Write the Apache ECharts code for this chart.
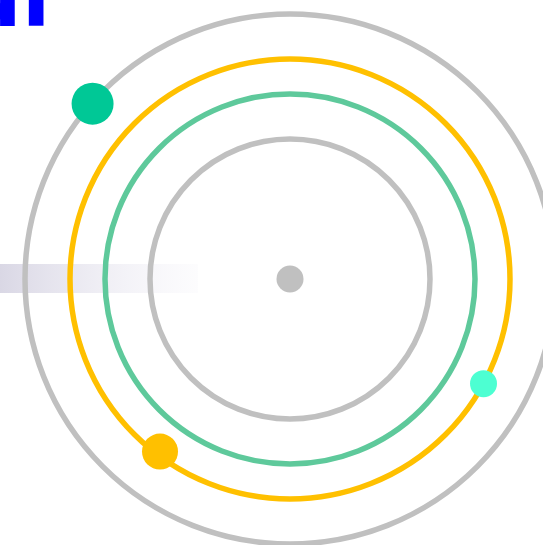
<!DOCTYPE html>
<html>
<head>
<meta charset="utf-8">
<script src="https://cdn.jsdelivr.net/npm/echarts@6/dist/echarts.min.js"></script>
<style>html,body{margin:0;padding:0;background:#fff;}#c{width:543px;height:545px;}</style>
</head>
<body>
<div id="c"></div>
<script>
// ring radii (px) and colours, innermost first
var ringNames = ['inner', 'green', 'yellow', 'outer'];
var ringRadii = [140, 185, 220, 265];
var ringColors = ['#c0c0c0', '#5ec99b', '#ffc000', '#c0c0c0'];

// orbit dots: ring index, radius on that ring, angle (deg, counter-clockwise from east), size, colour
var dotRing = [0, 3, 2, 2, 0];
var dotRadius = [141, 264, 220, 216, 0];
var dotAngle = [94, 138.4, 331.6, 233, 0];
var dotSize = [27, 42, 27, 36, 27];
var dotColors = ['#c0c0c0', '#00c896', '#4dffd2', '#ffc000', '#c0c0c0'];

var titleText = 'ul';

var center = [290, 279];
var polar = [], angleAxis = [], radiusAxis = [], series = [];
ringRadii.forEach(function (r, i) {
  polar.push({ center: center, radius: [0, r] });
  angleAxis.push({
    polarIndex: i, type: 'value', min: 0, max: 360, startAngle: 0, clockwise: false,
    axisLine: { show: true, lineStyle: { color: ringColors[i], width: 5.5 } },
    axisTick: { show: false }, axisLabel: { show: false }, splitLine: { show: false }
  });
  radiusAxis.push({
    polarIndex: i, type: 'value', min: 0, max: r,
    axisLine: { show: false }, axisTick: { show: false }, axisLabel: { show: false },
    splitLine: { show: false }
  });
});
dotRing.forEach(function (ri, k) {
  series.push({
    type: 'scatter', coordinateSystem: 'polar', polarIndex: ri,
    symbolSize: dotSize[k], itemStyle: { color: dotColors[k], opacity: 1 },
    data: [[dotRadius[k], dotAngle[k]]], z: 5, silent: true
  });
});

var chart = echarts.init(document.getElementById('c'));
chart.setOption({
  animation: false,
  backgroundColor: '#fff',
  polar: polar, angleAxis: angleAxis, radiusAxis: radiusAxis,
  graphic: [
    {
      type: 'rect', z: -10, left: 0, top: 264,
      shape: { width: 198, height: 29 },
      style: {
        fill: new echarts.graphic.LinearGradient(0, 0, 1, 0, [
          { offset: 0, color: 'rgba(205,202,220,0.75)' },
          { offset: 1, color: 'rgba(230,228,240,0.1)' }
        ])
      }
    },
    {
      type: 'text', z: 10, left: -38, top: -38,
      style: { text: titleText, fill: '#0000ff', font: 'bold 84px "DejaVu Sans"' }
    }
  ],
  series: series
});
</script>
</body>
</html>
